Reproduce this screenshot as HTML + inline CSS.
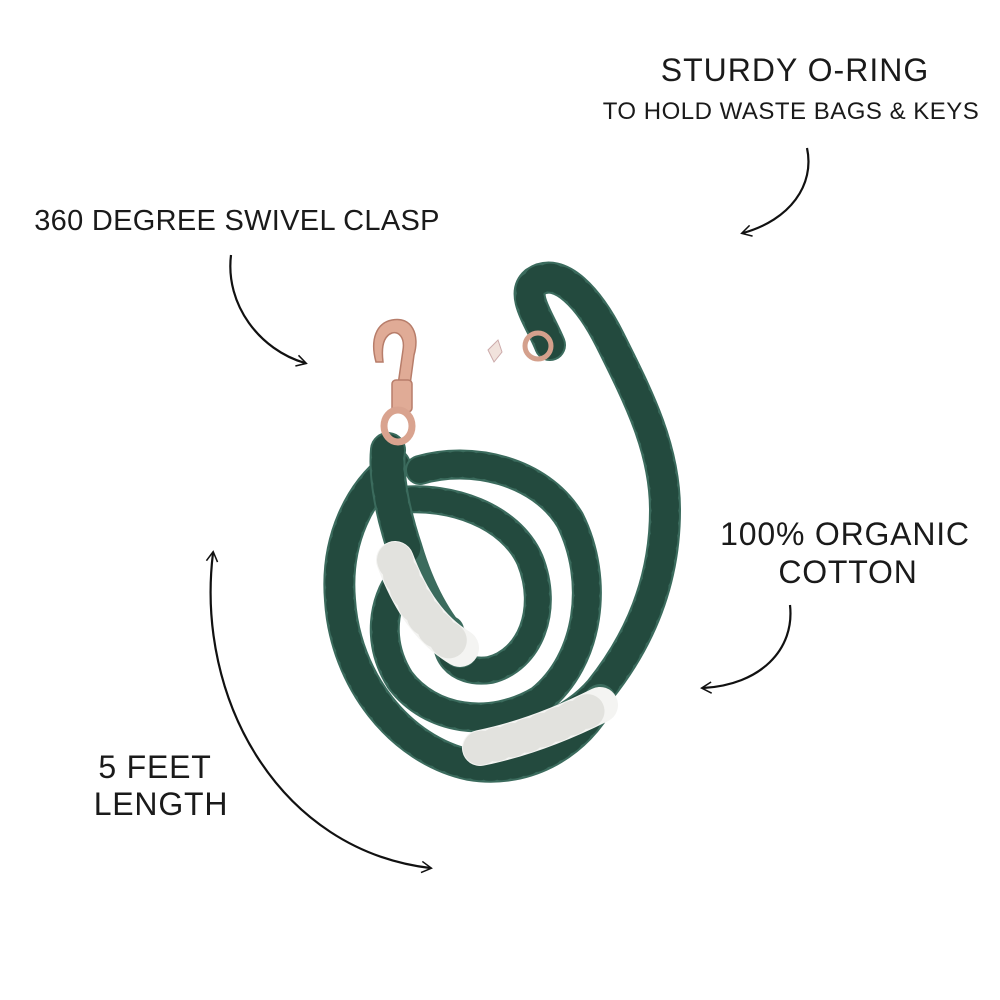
<!DOCTYPE html>
<html><head><meta charset="utf-8"><style>
html,body{margin:0;padding:0;background:#fff;}
svg{display:block;}
text{font-family:"Liberation Sans",sans-serif;fill:#1a1a1a;font-weight:normal;}
</style></head><body>
<svg width="1000" height="1000" viewBox="0 0 1000 1000" xmlns="http://www.w3.org/2000/svg">
<defs>
<marker id="ah" viewBox="0 0 20 20" refX="14" refY="10" markerWidth="14" markerHeight="14" orient="auto-start-reverse" markerUnits="userSpaceOnUse">
<path d="M2,2 L16,10 L2,18" fill="none" stroke="#111" stroke-width="2.2"/>
</marker>
</defs>
<text x="795" y="81" font-size="32" text-anchor="middle" letter-spacing="1">STURDY O-RING</text>
<text x="791" y="119" font-size="24" text-anchor="middle" letter-spacing="0.5">TO HOLD WASTE BAGS &amp; KEYS</text>
<text x="237" y="230" font-size="29" text-anchor="middle" letter-spacing="0.3">360 DEGREE SWIVEL CLASP</text>
<text x="845" y="545" font-size="32" text-anchor="middle" letter-spacing="0.8">100% ORGANIC</text>
<text x="848" y="583" font-size="32" text-anchor="middle" letter-spacing="0.8">COTTON</text>
<text x="155" y="778" font-size="32" text-anchor="middle" letter-spacing="0.8">5 FEET</text>
<text x="161" y="815" font-size="32" text-anchor="middle" letter-spacing="0.8">LENGTH</text>
<g fill="none" stroke="#111" stroke-width="2.2">
<path d="M807,148 C815,185 790,220 743,233" marker-end="url(#ah)"/>
<path d="M231,255 C225,305 260,350 305,363" marker-end="url(#ah)"/>
<path d="M790,605 C795,650 760,685 703,688" marker-end="url(#ah)"/>
<path d="M213,553 C195,700 280,850 430,868" marker-start="url(#ah)" marker-end="url(#ah)"/>
</g>
<g fill="none" stroke-linecap="round" stroke-linejoin="round">
<path d="M550,345 C540,320 520,295 535,282 C560,265 590,300 610,340 C640,400 665,450 665,510 C665,580 640,640 600,690 C570,725 520,740 490,745" stroke="#3b6b5d" stroke-width="32"/>
<path d="M550,345 C540,320 520,295 535,282 C560,265 590,300 610,340 C640,400 665,450 665,510 C665,580 640,640 600,690 C570,725 520,740 490,745" stroke="#234a3e" stroke-width="28" stroke-dasharray="3 9"/>
<path d="M395,465 C360,490 335,540 340,600 C345,680 400,750 470,765 C530,775 580,740 600,700" stroke="#3b6b5d" stroke-width="32"/>
<path d="M395,465 C360,490 335,540 340,600 C345,680 400,750 470,765 C530,775 580,740 600,700" stroke="#234a3e" stroke-width="28" stroke-dasharray="3 9"/>
<path d="M420,470 C470,455 540,470 570,520 C600,580 590,660 540,700 C490,730 430,720 400,680 C375,640 385,600 400,580" stroke="#3b6b5d" stroke-width="30"/>
<path d="M420,470 C470,455 540,470 570,520 C600,580 590,660 540,700 C490,730 430,720 400,680 C375,640 385,600 400,580" stroke="#234a3e" stroke-width="26" stroke-dasharray="3 9"/>
<path d="M400,500 C450,495 510,515 530,560 C550,610 530,660 490,670 C455,675 440,650 450,630" stroke="#3b6b5d" stroke-width="28"/>
<path d="M400,500 C450,495 510,515 530,560 C550,610 530,660 490,670 C455,675 440,650 450,630" stroke="#234a3e" stroke-width="24" stroke-dasharray="3 9"/>
<path d="M388,450 C385,480 395,520 405,550 C420,600 440,630 460,650" stroke="#3b6b5d" stroke-width="36"/>
<path d="M388,450 C385,480 395,520 405,550" stroke="#234a3e" stroke-width="32" stroke-dasharray="4 8"/>
<path d="M395,560 C410,600 430,630 460,648" stroke="#f4f4f2" stroke-width="38"/>
<path d="M480,748 C520,740 560,725 600,705" stroke="#f4f4f2" stroke-width="36"/>
<path d="M395,560 C410,600 430,630 460,648" stroke="#e2e2de" stroke-width="36" stroke-dasharray="2 14"/>
<path d="M480,748 C520,740 560,725 600,705" stroke="#e2e2de" stroke-width="34" stroke-dasharray="2 14"/>
</g>
<g fill="#e0ab96" stroke="#b77d6a" stroke-width="1.5">
<path d="M392,320 C412,316 420,335 414,355 L410,385 L398,385 L403,350 C405,338 399,331 392,333 C384,336 381,346 383,362 L376,362 C370,340 376,323 392,320 Z"/>
<rect x="392" y="380" width="20" height="32" rx="4"/>
<ellipse cx="398" cy="426" rx="14" ry="16" fill="none" stroke="#d9a38f" stroke-width="7"/>
</g>
<circle cx="538" cy="346" r="13" fill="none" stroke="#d4a08c" stroke-width="5"/>
<path d="M488,350 L498,340 L502,352 L494,362 Z" fill="#f1e2dc" stroke="#caa" stroke-width="1"/>
</svg>
</body></html>
